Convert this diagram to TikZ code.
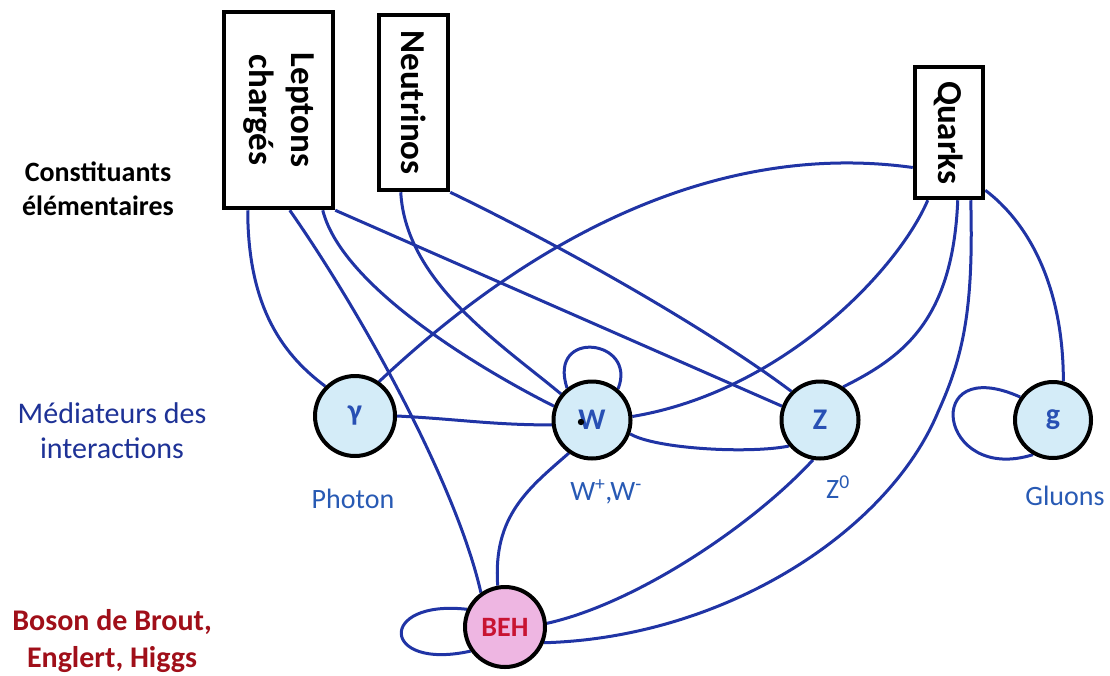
\documentclass[tikz,border=0pt]{standalone}
\usepackage{fontspec}
\setmainfont{Carlito}
\usetikzlibrary{calc}
\definecolor{wirecol}{RGB}{32,52,165}
\definecolor{medfill}{RGB}{212,236,248}
\definecolor{medtext}{RGB}{40,80,180}
\definecolor{behfill}{RGB}{238,182,226}
\definecolor{behtext}{RGB}{200,20,50}
\definecolor{sublabel}{RGB}{40,90,180}
\definecolor{rowblue}{RGB}{30,50,150}
\definecolor{rowred}{RGB}{160,15,25}
\pgfdeclarelayer{bg}
\pgfsetlayers{bg,main}
\begin{document}
\begin{tikzpicture}[x=1pt,y=-1pt,
  wire/.style={draw=wirecol, line width=3pt},
  family/.style={rectangle, draw=black, line width=4.5pt, fill=white, inner sep=0pt},
  famtext/.style={rotate=-90, align=center, font=\fontsize{35}{42}\selectfont\bfseries},
  mediator/.style={circle, draw=black, line width=4pt, fill=medfill, minimum size=77pt,
    inner sep=0pt, text=medtext, font=\fontsize{30}{30}\selectfont\bfseries},
  sub/.style={text=sublabel, anchor=base, font=\fontsize{28}{28}\selectfont},
  rowlabel/.style={align=center, font=\fontsize{30}{35}\selectfont}
]
\useasboundingbox (0,0) rectangle (1110,675);

% fermion families
\node[family, minimum width=109pt, minimum height=196pt] (lep) at (278.5,110) {};
\node[famtext] (leptxt) at (lep.center) {Leptons\\chargés};
\node[family, minimum width=69pt, minimum height=175pt] (neu) at (413.5,102.5) {};
\node[famtext] (neutxt) at (neu.center) {Neutrinos};
\node[family, minimum width=68pt, minimum height=131pt] (qua) at (949,132.5) {};
\node[famtext] (quatxt) at (qua.center) {Quarks};

% bosons
\node[mediator, minimum size=80pt] (gam) at (355,416) {γ};
\node[mediator] (W) at (592,420) {W};
\fill (581,422) circle (3.2pt);
\node[mediator] (Z) at (820,420) {Z};
\node[mediator, minimum size=76pt] (g) at (1053,420) {g};
\node[mediator, minimum size=80pt, fill=behfill, text=behtext,
  font=\fontsize{28}{28}\selectfont\bfseries] (beh) at (505,627) {BEH};

% names under the mediators
\node[sub] (photon) at (353,508) {Photon};
\node[sub] (wlab) at (606,500) {W\textsuperscript{+},W\textsuperscript{-}};
\node[sub] (zlab) at (838,498) {Z\textsuperscript{0}};
\node[sub] (glab) at (1065,505) {Gluons};

% row titles
\node[rowlabel, font=\fontsize{28}{34}\selectfont\bfseries] (rowf) at (98,189) {Constituants\\élémentaires};
\node[rowlabel, text=rowblue] (rowm) at (112,431) {Médiateurs des\\interactions};
\node[rowlabel, text=rowred, font=\fontsize{30}{37}\selectfont\bfseries] (rowh) at (112,641) {Boson de Brout,\\Englert, Higgs};

\begin{pgfonlayer}{bg}
% charged leptons
\draw[wire] ([xshift=26pt]lep.south west) .. controls +(0,100) and +(-40,-30) .. (gam.135);
\draw[wire] ([xshift=68pt]lep.south west) .. controls +(70,100) and +(-25,-110) .. (beh.125);
\draw[wire] ([xshift=101pt]lep.south west) .. controls +(20,80) and +(-60,-30) .. (W.160);
\draw[wire] (lep.south east) -- (Z.160);
% neutrinos
\draw[wire] ([xshift=24pt]neu.south west) .. controls +(5,90) and +(-60,-50) .. (W.140);
\draw[wire] (neu.south east) .. controls +(120,58) and +(-80,-60) .. (Z.135);
% quarks
\draw[wire] ([yshift=-35pt]qua.west) .. controls +(-180,-25) and +(170,-160) .. (gam.55);
\draw[wire] ([xshift=15pt]qua.south west) .. controls +(-30,70) and +(150,-25) .. (W.5);
\draw[wire] ([xshift=45pt]qua.south west) .. controls +(-5,120) and +(60,-30) .. (Z.55);
\draw[wire] ([xshift=58pt]qua.south west) .. controls +(3,110) and +(25,-55) .. (938,412)
  .. controls +(-50,120) and +(180,-5) .. (beh.-22);
\draw[wire] ([yshift=10pt]qua.south east) .. controls +(40,30) and +(0,-100) .. (g.75);
% couplings between bosons
\draw[wire] (gam.0) .. controls +(60,3) and +(-60,0) .. (W.187);
\draw[wire] (W.128) .. controls +(-20,-60) and +(20,-50) .. (W.50);
\draw[wire] (W.-20) .. controls +(25,15) and +(-40,8) .. (Z.-140);
\draw[wire] (W.-125) .. controls +(-40,35) and +(-5,-70) .. (beh.100);
\draw[wire] (Z.-100) .. controls +(-60,65) and +(90,-20) .. (beh.5);
\draw[wire] (beh.155) .. controls +(-90,-10) and +(-90,20) .. (beh.-145);
\draw[wire] (g.145) .. controls +(-100,-45) and +(-95,30) .. (g.-120);
\end{pgfonlayer}
\end{tikzpicture}
\end{document}
